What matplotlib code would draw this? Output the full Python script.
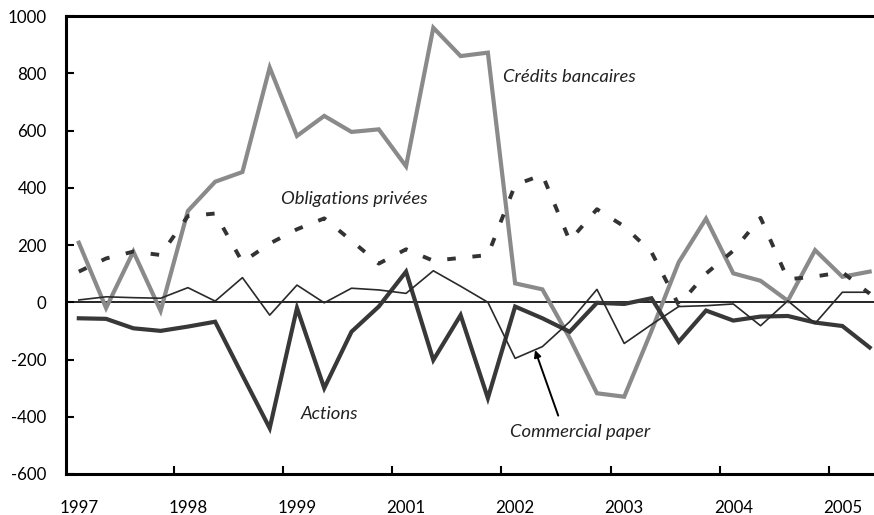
import matplotlib
matplotlib.use("Agg")
import matplotlib.pyplot as plt
import numpy as np

# Quarterly series (30 quarters)
credits_bancaires = [208, -20, 177, -30, 319, 421, 455, 820, 581, 651,
                     595, 604, 475, 959, 860, 872, 66, 45, -125, -318,
                     -330, -100, 140, 292, 101, 75, 5, 182, 89, 107]
obligations_privees = [107, 153, 177, 165, 301, 310, 140, 205, 255, 293,
                       215, 135, 185, 145, 155, 165, 410, 445, 215, 325,
                       265, 175, -10, 100, 180, 295, 80, 90, 105, 30]
actions = [-56, -58, -91, -100, -85, -68, -255, -440, -20, -300,
           -103, -15, 107, -202, -45, -335, -15, -56, -103, -2,
           -6, 14, -138, -29, -64, -50, -48, -71, -83, -158]
commercial_paper = [8, 19, 16, 14, 51, 4, 86, -45, 60, -2,
                    49, 43, 31, 110, 56, 0, -196, -155, -68, 45,
                    -144, -78, -15, -12, -6, -82, 5, -74, 35, 35]
year_labels = ["1997", "1998", "1999", "2001", "2002", "2003", "2004", "2005"]
y_ticks = [-600, -400, -200, 0, 200, 400, 600, 800, 1000]

plt.rcParams['font.family'] = ['Lato', 'DejaVu Sans']

fig = plt.figure(figsize=(8.74, 5.15), dpi=100)
ax = fig.add_axes([66/874, 41/515, 808/874, 458/515])

x = np.arange(len(credits_bancaires))
ax.axhline(0, color='black', lw=1.2, zorder=1)
ax.plot(x, credits_bancaires, color='#8a8a8a', lw=3.0, zorder=2, solid_joinstyle='miter')
ax.plot(x, obligations_privees, color='#333333', lw=2.8, ls=(0, (2.2, 4.3)), zorder=3)
ax.plot(x, actions, color='#383838', lw=3.0, zorder=4, solid_joinstyle='miter')
ax.plot(x, commercial_paper, color='#2a2a2a', lw=1.2, zorder=5)

ax.set_xlim(-0.47, 29.16)
ax.set_ylim(-600, 1000)
ax.set_yticks(y_ticks)
ax.set_yticklabels([str(v) for v in y_ticks])

# tick marks between years, labels at first quarter
ax.set_xticks(np.arange(3.5, 29, 4))
ax.set_xticklabels([])
ax.set_xticks(np.arange(0, 29, 4), minor=True)
ax.set_xticklabels(year_labels, minor=True)
ax.tick_params(axis='x', which='major', direction='in', length=6, width=1.5)
ax.tick_params(axis='x', which='minor', length=0, pad=18.5, labelsize=12.2)
ax.tick_params(axis='y', direction='in', length=6, width=1.5, pad=14, labelsize=12.2)

for s in ['left', 'bottom', 'top']:
    ax.spines[s].set_linewidth(2.2)
ax.spines['right'].set_visible(False)

kw = dict(fontsize=13.3, style='italic', color='#222222', ha='center', va='center')
ax.text(17.98, 787, "Crédits bancaires", **kw)
ax.text(10.1, 360, "Obligations privées", **kw)
ax.text(9.2, -390, "Actions", **kw)
ax.text(18.4, -453, "Commercial paper", **kw)
ax.annotate("", xy=(16.73, -167), xytext=(17.58, -396),
            arrowprops=dict(arrowstyle='-|>', color='black', lw=1.4,
                            mutation_scale=10, shrinkA=0, shrinkB=0))

fig.savefig("out.png", dpi=100)
